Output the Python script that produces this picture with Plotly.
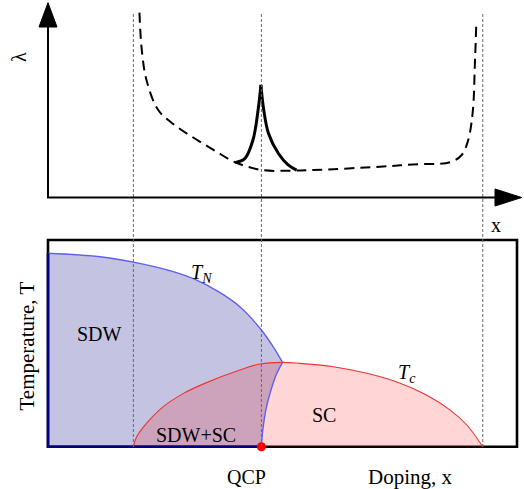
import plotly.graph_objects as go

# ---------------- data (doping x in units of the phase-diagram box width) ----
# critical dopings: onset of SC, quantum critical point, end of SC dome
critical_doping = [0.182, 0.455, 0.927]
qcp_doping = 0.455

# Neel temperature T_N, upper branch (from x=0 to the point where it meets T_c)
tn_x = [0.000, 0.111, 0.182, 0.267, 0.317, 0.367, 0.409, 0.452, 0.480, 0.500]
tn_T = [0.936, 0.919, 0.893, 0.847, 0.806, 0.745, 0.677, 0.573, 0.484, 0.408]
# T_N back-bending branch inside the SC dome, down to the QCP
tnb_x = [0.500, 0.488, 0.480, 0.466, 0.458, 0.455]
tnb_T = [0.408, 0.355, 0.307, 0.194, 0.081, 0.000]

# superconducting T_c dome
tc_x = [0.182, 0.189, 0.210, 0.246, 0.289, 0.338, 0.409, 0.452, 0.500,
        0.537, 0.608, 0.680, 0.751, 0.807, 0.857, 0.893, 0.927]
tc_T = [0.000, 0.048, 0.113, 0.194, 0.258, 0.310, 0.371, 0.400, 0.408,
        0.403, 0.387, 0.355, 0.307, 0.250, 0.178, 0.105, 0.000]

# lambda(x): dashed background curve
lam_x = [0.195, 0.200, 0.210, 0.235, 0.271, 0.313, 0.356, 0.399, 0.456, 0.520,
         0.565, 0.708, 0.778, 0.857, 0.882, 0.896, 0.906, 0.910, 0.913]
lam_y = [0.949, 0.757, 0.603, 0.449, 0.370, 0.303, 0.240, 0.181, 0.141, 0.138,
         0.141, 0.158, 0.170, 0.181, 0.218, 0.295, 0.449, 0.671, 0.877]
# lambda peak at the QCP (solid), left and right branches
peakL_x = [0.399, 0.420, 0.437, 0.448, 0.454]
peakL_y = [0.179, 0.201, 0.295, 0.449, 0.578]
peakR_x = [0.454, 0.459, 0.470, 0.491, 0.512, 0.530]
peakR_y = [0.578, 0.466, 0.330, 0.227, 0.167, 0.141]

# ---------------- figure ----------------------------------------------------
W, H = 524, 489
X0PX, XSPAN = 48.0, 469.0          # box left pixel, box width in pixels
LAM0, LAMSPAN = 197.5, 194.8       # lambda=0 pixel row, pixel span of lambda=1
T0, TSPAN = 446.7, 206.7           # T=0 pixel row, pixel span of T=1

xr = [-X0PX / XSPAN, (W - X0PX) / XSPAN]
yr_lam = [(LAM0 - H) / LAMSPAN, LAM0 / LAMSPAN]
yr_T = [(T0 - H) / TSPAN, T0 / TSPAN]

FONT = "Liberation Serif, Times New Roman, DejaVu Serif, serif"
NAVY = "rgb(0,0,128)"

fig = go.Figure()

# SDW region (closed polygon, corners duplicated to keep them sharp)
sdw_x = [0.0, 0.0, tn_x[0]] + tn_x + [tn_x[-1]] + tnb_x[1:] + [tnb_x[-1]]
sdw_T = [0.0, 0.0, tn_T[0]] + tn_T + [tn_T[-1]] + tnb_T[1:] + [tnb_T[-1]]
fig.add_trace(go.Scatter(x=sdw_x, y=sdw_T, yaxis="y2", mode="lines", fill="toself",
                         fillcolor="rgba(0,0,128,0.23)",
                         line=dict(width=0, shape="spline", simplify=False),
                         hoverinfo="skip", showlegend=False))
# SC dome fill
sc_x = [tc_x[0]] + tc_x + [tc_x[-1]]
sc_T = [tc_T[0]] + tc_T + [tc_T[-1]]
fig.add_trace(go.Scatter(x=sc_x, y=sc_T, yaxis="y2", mode="lines", fill="toself",
                         fillcolor="rgba(255,0,0,0.165)",
                         line=dict(width=0, shape="spline", simplify=False),
                         hoverinfo="skip", showlegend=False))
# boundary lines
fig.add_trace(go.Scatter(x=tc_x, y=tc_T, yaxis="y2", mode="lines",
                         line=dict(color="rgb(240,50,50)", width=1.1, shape="spline"),
                         hoverinfo="skip", showlegend=False))
fig.add_trace(go.Scatter(x=tn_x, y=tn_T, yaxis="y2", mode="lines",
                         line=dict(color="rgb(95,95,245)", width=1.4, shape="spline"),
                         hoverinfo="skip", showlegend=False))
fig.add_trace(go.Scatter(x=tnb_x, y=tnb_T, yaxis="y2", mode="lines",
                         line=dict(color="rgb(95,95,245)", width=1.4, shape="spline"),
                         hoverinfo="skip", showlegend=False))
# navy edges of SDW region (left side and bottom up to QCP)
fig.add_trace(go.Scatter(x=[0.0, 0.0, qcp_doping], y=[tn_T[0], 0.0, 0.0], yaxis="y2",
                         mode="lines", line=dict(color=NAVY, width=2.6),
                         hoverinfo="skip", showlegend=False))
# QCP point
fig.add_trace(go.Scatter(x=[qcp_doping], y=[0.0], yaxis="y2", mode="markers",
                         marker=dict(color="red", size=9, line=dict(width=0)),
                         cliponaxis=False, hoverinfo="skip", showlegend=False))

# top panel: lambda(x)
fig.add_trace(go.Scatter(x=lam_x, y=lam_y, mode="lines",
                         line=dict(color="black", width=2, dash="10px,6px", shape="spline"),
                         hoverinfo="skip", showlegend=False))
for px_, py_ in ((peakL_x, peakL_y), (peakR_x, peakR_y)):
    fig.add_trace(go.Scatter(x=px_, y=py_, mode="lines",
                             line=dict(color="black", width=3, shape="spline"),
                             hoverinfo="skip", showlegend=False))

shapes = []
# phase-diagram box
shapes.append(dict(type="rect", xref="x", yref="y2", x0=0, x1=1, y0=0, y1=1,
                   line=dict(color="black", width=2.6), layer="below"))
# vertical dashed guide lines
for xc in critical_doping:
    shapes.append(dict(type="line", xref="x", yref="paper", x0=xc, x1=xc,
                       y0=(H - 447) / H, y1=(H - 12) / H,
                       line=dict(color="rgb(105,105,105)", width=1, dash="3px,2px"),
                       layer="above"))
# top-panel axes with arrow heads
ah_w = 9 / XSPAN            # half width of vertical arrow head (x units)
ah_h = 8.5 / LAMSPAN        # half height of horizontal arrow head (lambda units)
tip_y = 1.0
base_y = (LAM0 - 27) / LAMSPAN
tip_x = (521.7 - X0PX) / XSPAN
base_x = (495 - X0PX) / XSPAN
shapes.append(dict(type="line", xref="x", yref="y", x0=0, x1=0, y0=0, y1=base_y + 0.01,
                   line=dict(color="black", width=2)))
shapes.append(dict(type="line", xref="x", yref="y", x0=-1 / XSPAN, x1=base_x + 0.005, y0=0, y1=0,
                   line=dict(color="black", width=2)))
shapes.append(dict(type="path", xref="x", yref="y",
                   path=f"M 0,{tip_y} L {-ah_w},{base_y} L {ah_w},{base_y} Z",
                   fillcolor="black", line=dict(color="black", width=1)))
shapes.append(dict(type="path", xref="x", yref="y",
                   path=f"M {tip_x},0 L {base_x},{ah_h} L {base_x},{-ah_h} Z",
                   fillcolor="black", line=dict(color="black", width=1)))

FS = 20
ann = []
def A(text, x, y, xref, yref, angle=0, size=FS):
    ann.append(dict(text=text, x=x, y=y, xref=xref, yref=yref, showarrow=False,
                    xanchor="center", yanchor="middle", textangle=angle,
                    font=dict(family=FONT, size=size, color="black")))

A("SDW", 0.1095, 0.544, "x", "y2")
A("<i>T</i><sub><i>N</i></sub>", 0.328, 0.840, "x", "y2")
A("<i>T</i><sub><i>c</i></sub>", 0.765, 0.356, "x", "y2")
A("SC", 0.588, 0.153, "x", "y2")
A("SDW+SC", 0.3156, 0.057, "x", "y2")
A("QCP", 246.5 / W, (H - 476.7) / H, "paper", "paper")
A("Doping, x", 410 / W, (H - 476.7) / H, "paper", "paper", size=21)
A("Temperature, T", 26.7 / W, (H - 345.8) / H, "paper", "paper", angle=-90, size=21)
A("λ", 19 / W, (H - 57) / H, "paper", "paper", angle=-90)
A("x", 495.7 / W, (H - 225) / H, "paper", "paper")

fig.update_layout(
    width=W, height=H, margin=dict(l=0, r=0, t=0, b=0),
    paper_bgcolor="white", plot_bgcolor="rgba(0,0,0,0)",
    font=dict(family=FONT),
    xaxis=dict(range=xr, visible=False, fixedrange=True, domain=[0, 1]),
    yaxis=dict(range=yr_lam, visible=False, fixedrange=True, domain=[0, 1]),
    yaxis2=dict(range=yr_T, visible=False, fixedrange=True, overlaying="y"),
    shapes=shapes, annotations=ann, showlegend=False,
)

fig.write_html("out.html", config={"staticPlot": True},
               post_script="document.body.style.margin='0px';document.body.style.overflow='hidden';")
